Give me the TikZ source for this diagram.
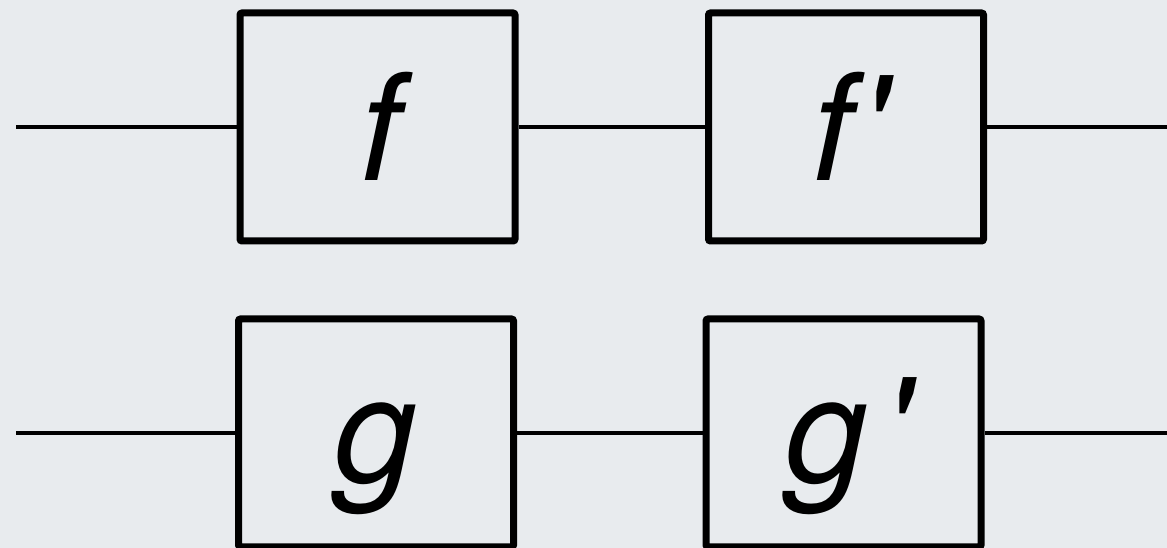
\documentclass[tikz,border=0pt]{standalone}
\usepackage{fontspec}
\setmainfont{TeX Gyre Heros}
\definecolor{bg}{RGB}{232,235,238}
\tikzset{
  blk/.style={draw=black, line width=7pt, rounded corners=2pt, inner sep=0pt,
    minimum width=275pt, minimum height=228pt},
  lbl/.style={anchor=base, inner sep=0pt, font=\fontsize{148}{150}\selectfont\itshape},
  wire/.style={draw=black, line width=3.5pt}
}
\begin{document}
\begin{tikzpicture}[x=1pt,y=1pt]
\fill[bg] (0,0) rectangle (1167,548);
\useasboundingbox (0,0) rectangle (1167,548);
\node[blk] (f) at (377.5,421) {};
\node[blk] (f2) at (846,421) {};
\node[blk] (g) at (376,115) {};
\node[blk] (g2) at (843.5,115) {};
\node[lbl] (tf) at ([xshift=3pt,yshift=-54pt]f.center) {f};
\node[lbl] (tf2) at ([xshift=3pt,yshift=-54pt]f2.center) {f\kern6pt\textquotesingle};
\node[lbl] (tg) at ([yshift=-50pt]g.center) {g};
\node[lbl] (tg2) at ([xshift=4pt,yshift=-50pt]g2.center) {g\kern14pt\textquotesingle};
\coordinate (inf) at (16,421);
\coordinate (outf) at (1167,421);
\coordinate (ing) at (16,115);
\coordinate (outg) at (1167,115);
\draw[wire] (inf) -- (f.west);
\draw[wire] (f.east) -- (f2.west);
\draw[wire] (f2.east) -- (outf);
\draw[wire] (ing) -- (g.west);
\draw[wire] (g.east) -- ([xshift=6pt]g2.west);
\draw[wire] (g2.east) -- (outg);
\end{tikzpicture}
\end{document}
